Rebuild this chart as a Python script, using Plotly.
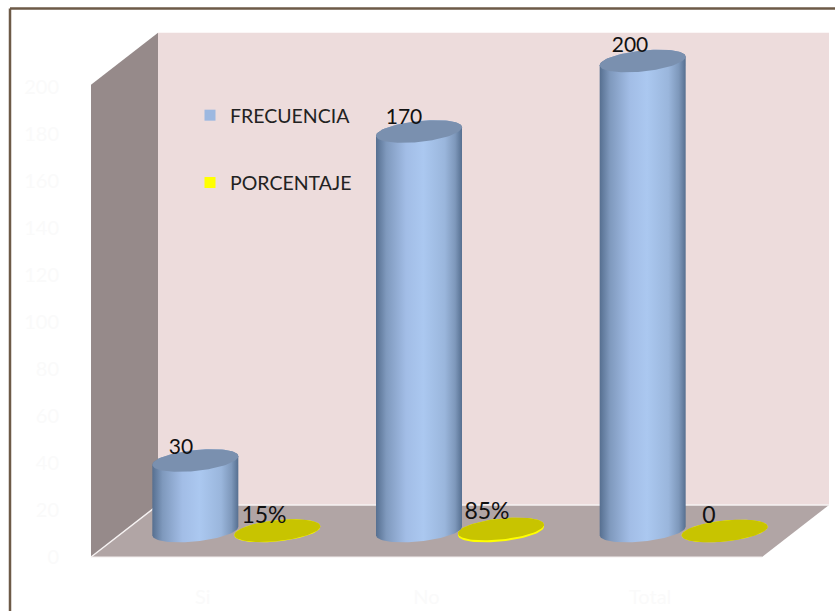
import numpy as np
import plotly.graph_objects as go

categories = ["Si", "No", "Total"]
frecuencia = [30, 170, 200]
porcentaje = [0.15, 0.85, 0]
frecuencia_labels = ["30", "170", "200"]
porcentaje_labels = ["15%", "85%", "0"]
y_ticks = [0, 20, 40, 60, 80, 100, 120, 140, 160, 180, 200]

W, H = 835, 611
L, R, T, B = 91, 762, 87, 557
PX_X = (R - L) / 3
PX_Y = (B - T) / 200
DEPTH_X = 67 / PX_X
DEPTH_Y = 52 / PX_Y
WALL_TOP = 201
FONT = "Lato"


def cylinder(center, value):
    """Outline of a tilted cylinder in data units."""
    a, b, slope = 43 / PX_X, 10.5 / PX_Y, 0.1 * PX_X / PX_Y
    cx, cy = center + DEPTH_X / 2, DEPTH_Y / 2
    t = np.linspace(0, 2 * np.pi, 91)
    ex, ey = a * np.cos(t), b * np.sin(t) + slope * a * np.cos(t)
    lo = t >= np.pi
    up = t <= np.pi
    body_x = np.r_[cx + ex[lo], cx + ex[up]]
    body_y = np.r_[cy + ey[lo], cy + value + ey[up]]
    return body_x, body_y, cx + ex, cy + value + ey


fig = go.Figure()


def poly(x, y, color):
    fig.add_trace(go.Scatter(x=x, y=y, mode="lines", fill="toself", fillcolor=color,
                             line=dict(width=0), hoverinfo="skip", showlegend=False))


def edge(x, y, color="#f6f2f2", width=1.5):
    fig.add_trace(go.Scatter(x=x, y=y, mode="lines", line=dict(color=color, width=width),
                             hoverinfo="skip", showlegend=False))


# 3D walls
poly([DEPTH_X, 3 + DEPTH_X, 3 + DEPTH_X, DEPTH_X, DEPTH_X],
     [DEPTH_Y, DEPTH_Y, WALL_TOP + DEPTH_Y, WALL_TOP + DEPTH_Y, DEPTH_Y], "#eddcdc")
poly([0, DEPTH_X, DEPTH_X, 0, 0], [0, DEPTH_Y, WALL_TOP + DEPTH_Y, WALL_TOP, 0], "#968a8a")
poly([0, 3, 3 + DEPTH_X, DEPTH_X, 0], [0, 0, DEPTH_Y, DEPTH_Y, 0], "#b1a5a5")
edge([0, DEPTH_X, 3 + DEPTH_X], [0, DEPTH_Y, DEPTH_Y])
edge([0, 3], [0, 0], "#f3eeee", 1)

GRAD = [[0, "#566f90"], [0.12, "#7f99bd"], [0.35, "#a2bde6"], [0.55, "#abc8f0"],
        [0.8, "#9ab6dc"], [0.92, "#7e98bb"], [1, "#566f90"]]
OFFSET = 41 / PX_X

for i, (f, p) in enumerate(zip(frecuencia, porcentaje)):
    c = i + 0.5
    bx, by, tx, ty = cylinder(c + OFFSET, p)
    poly(bx, by, "#ffff00")
    poly(tx, ty, "#c8c400")
    bx, by, tx, ty = cylinder(c - OFFSET, f)
    fig.add_trace(go.Scatter(x=bx, y=by, mode="lines", fill="toself", line=dict(width=0),
                             fillgradient=dict(type="horizontal", colorscale=GRAD),
                             hoverinfo="skip", showlegend=False))
    poly(tx, ty, "#7a90af")

# Data labels
label_x_f = [(181 - L) / PX_X, (404 - L) / PX_X, (630 - L) / PX_X]
label_x_p = [(264 - L) / PX_X, (487 - L) / PX_X, (709 - L) / PX_X]
fig.add_trace(go.Scatter(
    x=label_x_f, y=[v + DEPTH_Y / 2 + d / PX_Y for v, d in zip(frecuencia, [12, 13, 14])],
    mode="text", text=frecuencia_labels, textposition="middle center",
    textfont=dict(family=FONT, size=21, color="#111111"),
    hoverinfo="skip", showlegend=False))
fig.add_trace(go.Scatter(
    x=label_x_p, y=[DEPTH_Y / 2 + d / PX_Y for d in [14, 18, 14]],
    mode="text", text=porcentaje_labels, textposition="middle center",
    textfont=dict(family=FONT, size=23, color="#111111"),
    hoverinfo="skip", showlegend=False))

# Legend entries
fig.add_trace(go.Scatter(x=[None], y=[None], mode="markers", name="FRECUENCIA", legendgroup="a",
                         marker=dict(symbol="square", size=11, color="#9db8e0")))
fig.add_trace(go.Scatter(x=[None], y=[None], mode="markers", name="PORCENTAJE", legendgroup="b",
                         marker=dict(symbol="square", size=11, color="#ffff00")))

fig.update_layout(
    width=W, height=H, autosize=False,
    margin=dict(l=0, r=0, t=0, b=0),
    paper_bgcolor="#ffffff", plot_bgcolor="rgba(0,0,0,0)",
    xaxis=dict(range=[-L / PX_X, (W - L) / PX_X], domain=[0, 1],
               anchor="free", position=(H - B) / H,
               tickvals=[0.5, 1.5, 2.5], ticktext=categories,
               showgrid=False, zeroline=False, showline=False,
               ticks="outside", ticklen=22, tickcolor="rgba(0,0,0,0)",
               tickfont=dict(family=FONT, size=20, color="#fafafa")),
    yaxis=dict(range=[-(H - B) / PX_Y, B / PX_Y], domain=[0, 1],
               anchor="free", position=L / W,
               tickvals=y_ticks,
               showgrid=False, zeroline=False, showline=False,
               ticks="outside", ticklen=28, tickcolor="rgba(0,0,0,0)",
               tickfont=dict(family=FONT, size=20, color="#fafafa")),
    legend=dict(x=190 / W, y=1 - 96 / H, xanchor="left", yanchor="top",
                bgcolor="rgba(0,0,0,0)", tracegroupgap=39, itemwidth=30,
                font=dict(family=FONT, size=19.5, color="#222222")),
    shapes=[
        dict(type="line", xref="paper", yref="paper", x0=10 / W, x1=1,
             y0=1 - 8.5 / H, y1=1 - 8.5 / H, line=dict(color="#6d5a47", width=2.5)),
        dict(type="line", xref="paper", yref="paper", x0=10 / W, x1=10 / W,
             y0=1 - 8.5 / H, y1=0, line=dict(color="#6d5a47", width=2.5)),
    ],
)
fig.write_html("out.html", config=dict(displayModeBar=False),
               post_script="document.body.style.margin='0';document.body.style.overflow='hidden';")
